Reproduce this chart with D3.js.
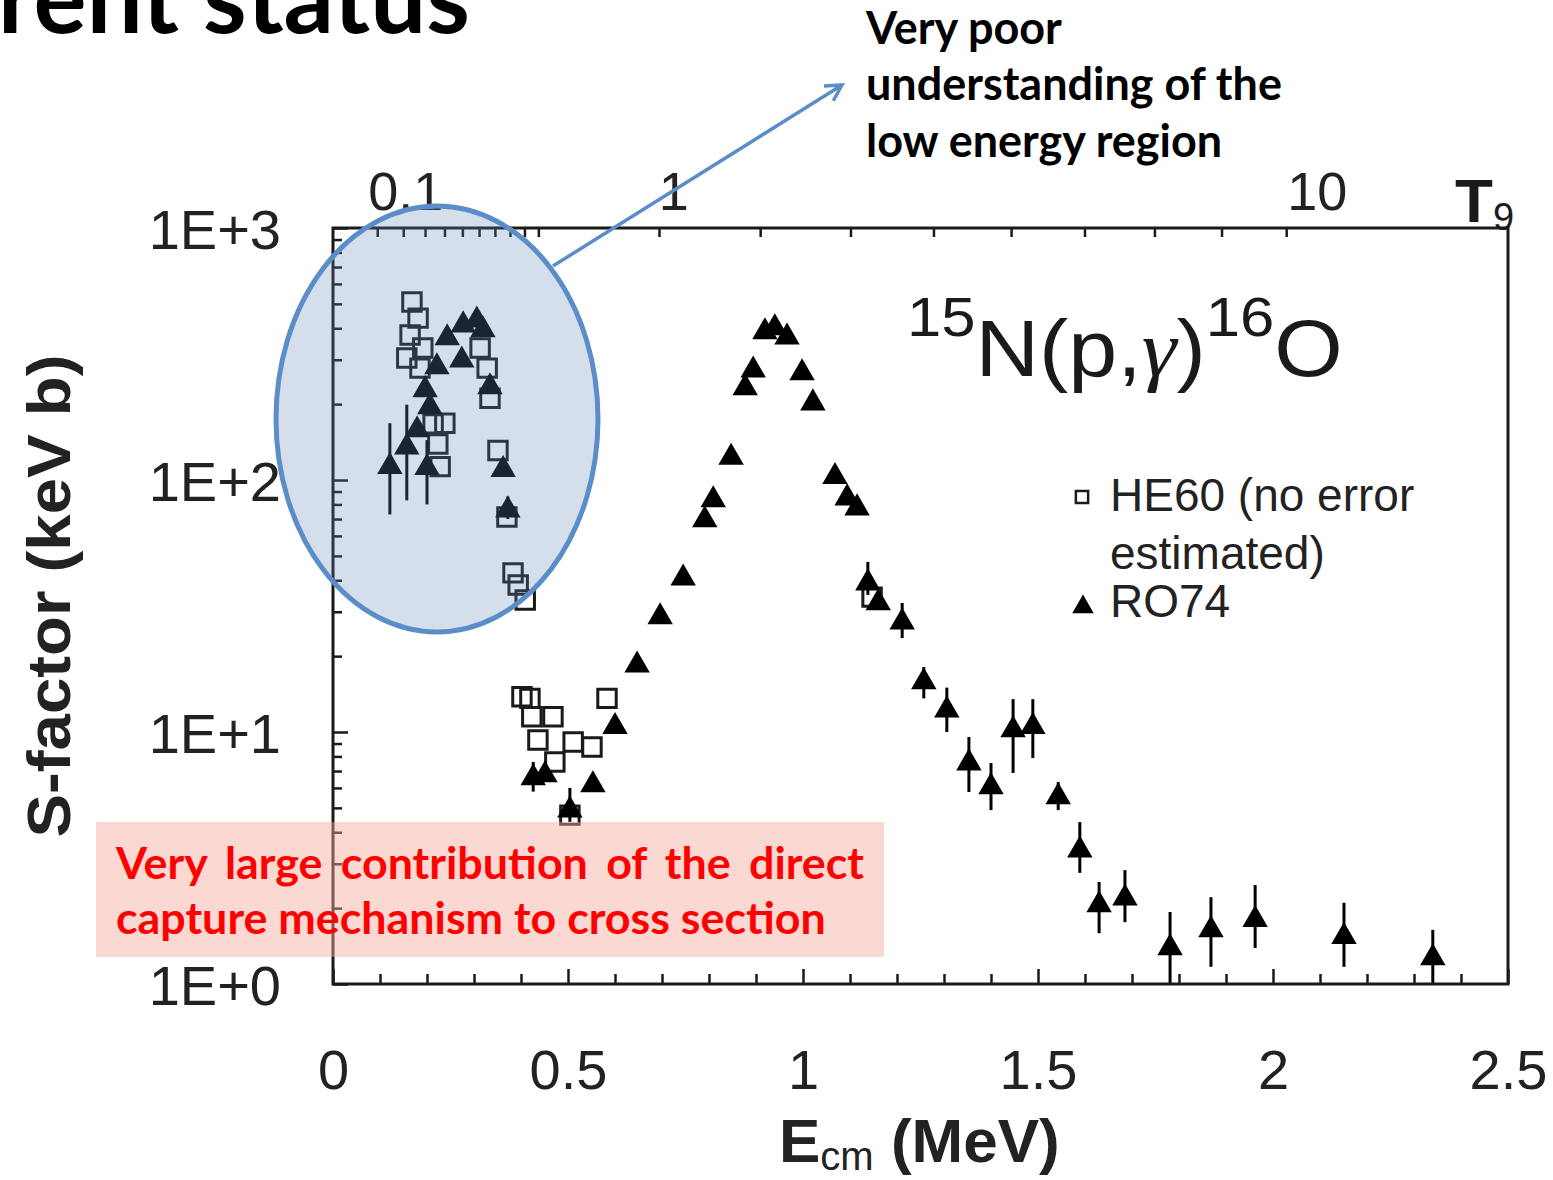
<!DOCTYPE html>
<html><head><meta charset="utf-8">
<script src="https://cdn.jsdelivr.net/npm/d3@7"></script>
<style>body{margin:0;background:#fff;} svg{display:block;}</style>
</head><body>
<svg id="c" width="1553" height="1180"></svg>
<script>
// ---------------- DATA ----------------
// RO74 (filled triangles, with error bars where visible)
const ro74E  = [0.121,0.157,0.200,0.179,0.206,0.196,0.221,0.243,0.274,0.277,0.306,0.319,0.334,0.362,0.372,
                0.426,0.451,0.504,0.553,0.600,0.647,0.696,0.745,0.791,0.809,0.847,0.877,0.894,0.919,0.940,0.966,
                0.998,1.021,1.068,1.094,1.115,1.138,1.160,1.211,1.257,1.306,1.353,1.400,1.447,1.489,1.543,1.589,
                1.630,1.685,1.781,1.868,1.962,2.151,2.340];
const ro74S  = [113,135,112,158,195,228,281,366,299,412,431,394,234,110,76,
                6.57,6.75,4.90,6.16,10.5,18.4,28.6,40.8,69.4,83.3,123,232,273,387,401,369,
                266,202,103,84.8,77.4,39.0,32.5,27.3,15.8,12.2,7.53,6.05,10.2,10.5,5.52,3.40,
                2.06,2.19,1.39,1.64,1.80,1.54,1.27];
const ro74Lo = [73,83,80,null,null,null,null,null,null,null,null,null,null,null,70,
                5.8,null,4.4,null,null,null,null,null,null,null,null,null,null,null,null,null,
                null,null,null,null,null,35,null,23.6,13.6,10.0,5.78,4.90,6.88,7.88,4.90,2.76,
                1.59,1.76,1.01,1.17,1.39,1.17,1.01];
const ro74Hi = [168,199,144,null,null,null,null,null,null,null,null,null,null,null,86,
                7.6,null,6.0,null,null,null,null,null,null,null,null,null,null,null,null,null,
                null,null,null,null,null,47.3,null,32.5,18.1,15.0,9.55,7.53,13.5,13.5,6.33,4.39,
                2.54,2.83,1.93,2.21,2.47,2.10,1.64];
// HE60 (open squares, no error estimated)
const he60E = [0.168,0.181,0.164,0.191,0.157,0.185,0.313,0.328,0.334,0.238,0.213,0.223,0.228,0.351,0.370,
               0.383,0.394,0.409,0.402,0.419,0.423,0.468,0.436,0.511,0.551,0.472,0.583,0.504,1.147];
const he60S = [509,439,376,334,305,278,334,278,211,168,167,139,113,131,71.3,
               42.8,38.3,33.4,13.8,13.6,11.5,11.5,9.30,9.12,8.72,7.60,13.6,4.68,34.3];

const xMajorTicks = [0,0.5,1,1.5,2,2.5];
const xMajorLabels = ["0","0.5","1","1.5","2","2.5"];
const xMinorTicks = [0.1,0.2,0.3,0.4,0.6,0.7,0.8,0.9,1.1,1.2,1.3,1.4,1.6,1.7,1.8,1.9,2.1,2.2,2.3,2.4];
const yMajorTicks = [1,10,100,1000];
const yMajorLabels = ["1E+0","1E+1","1E+2","1E+3"];
const t9Ticks = [0.1,0.2,0.3,0.4,0.5,0.6,0.7,0.8,0.9,1,2,3,4,5,6,7,8,9,10];
const t9Labels = ["0.1","1","10"];
const t9LabelE = [0.155,0.725,2.094];   // where the labels sit (MeV) in the original
const legendLabels = ["HE60 (no error","estimated)","RO74"];

// ---------------- CHART ----------------
const svg = d3.select("#c");
const x = d3.scaleLinear().domain([0,2.5]).range([333,1508]);
const y = d3.scaleLog().domain([1,1000]).range([984,228]);
// Gamow peak energy E0 = 0.122 (Z1^2 Z2^2 mu)^(1/3) T9^(2/3) MeV for p + 15N
const e0c = 0.122*Math.cbrt(49*15/16);
const t9 = d3.scalePow().exponent(2/3).domain([0,10]).range([x(0), x(e0c*Math.pow(10,2/3))]);

const FONT = "'Liberation Sans', Arial, sans-serif";
const ink = "#1a1a1a";

function styleAxis(g){ g.select(".domain").remove(); g.selectAll(".tick line").attr("stroke",ink).attr("stroke-width",2.5); }

// bottom axis
svg.append("g").attr("transform","translate(0,984)")
  .call(d3.axisBottom(x).tickValues(xMinorTicks).tickSize(-10).tickFormat("")).call(styleAxis);
const gb = svg.append("g").attr("transform","translate(0,984)")
  .call(d3.axisBottom(x).tickValues(xMajorTicks).tickSize(-15).tickPadding(0).tickFormat((d,i)=>xMajorLabels[i])).call(styleAxis);
gb.selectAll("text").attr("y",105).attr("dy",null).attr("font-family",FONT).attr("font-size",56).attr("fill","#222");

// left axis
const minorY = [];
[1,10,100].forEach(d=>{ for(let k=2;k<=9;k++) minorY.push(d*k); });
svg.append("g").attr("transform","translate(333,0)")
  .call(d3.axisLeft(y).tickValues(minorY).tickSize(-9).tickFormat("")).call(styleAxis);
const gl = svg.append("g").attr("transform","translate(333,0)")
  .call(d3.axisLeft(y).tickValues(yMajorTicks).tickSize(-15).tickPadding(52).tickFormat((d,i)=>yMajorLabels[i])).call(styleAxis);
gl.selectAll("text").attr("font-family",FONT).attr("font-size",56).attr("fill","#222").attr("dy","0.36em");

// top T9 axis
svg.append("g").attr("transform","translate(0,228)")
  .call(d3.axisTop(t9).tickValues(t9Ticks).tickSize(-9).tickFormat("")).call(styleAxis);
svg.append("g").selectAll("text").data(t9Labels).join("text")
  .attr("x",(d,i)=>x(t9LabelE[i])).attr("y",210).attr("text-anchor","middle")
  .attr("font-family",FONT).attr("font-size",54).attr("fill","#222").text(d=>d);
const tl = svg.append("text").attr("x",1455).attr("y",222).attr("font-family",FONT).attr("fill",ink);
tl.append("tspan").attr("font-size",62).attr("font-weight","bold").text("T");
tl.append("tspan").attr("font-size",38).attr("dy",8).text("9");

// frame
svg.append("rect").attr("x",x(0)).attr("y",y(1000)).attr("width",x(2.5)-x(0)).attr("height",y(1)-y(1000))
  .attr("fill","none").attr("stroke",ink).attr("stroke-width",3);

// HE60 squares
svg.append("g").selectAll("path").data(he60E).join("path")
  .attr("d",d3.symbol(d3.symbolSquare,340))
  .attr("transform",(d,i)=>`translate(${x(d)},${y(he60S[i])})`)
  .attr("fill","none").attr("stroke",ink).attr("stroke-width",3);

// RO74 error bars + triangles
const ro = ro74E.map((e,i)=>({e,s:ro74S[i],lo:ro74Lo[i],hi:ro74Hi[i]}));
svg.append("g").selectAll("line").data(ro.filter(d=>d.lo!=null)).join("line")
  .attr("x1",d=>x(d.e)).attr("x2",d=>x(d.e)).attr("y1",d=>y(d.lo)).attr("y2",d=>y(d.hi))
  .attr("stroke","#000").attr("stroke-width",3);
svg.append("g").selectAll("path").data(ro).join("path")
  .attr("d",d3.symbol(d3.symbolTriangle,280))
  .attr("transform",d=>`translate(${x(d.e)},${y(d.s)})`)
  .attr("fill","#000");

// legend
svg.append("path").attr("d",d3.symbol(d3.symbolSquare,150)).attr("transform","translate(1082,497)")
  .attr("fill","none").attr("stroke",ink).attr("stroke-width",2.5);
svg.append("path").attr("d",d3.symbol(d3.symbolTriangle,200)).attr("transform","translate(1083,607)").attr("fill","#000");
svg.append("g").selectAll("text").data(legendLabels).join("text")
  .attr("x",1110).attr("y",(d,i)=>[511,569,617][i])
  .attr("font-family",FONT).attr("font-size",46).attr("fill","#222").text(d=>d);

// reaction title
const rt = svg.append("text").attr("transform","translate(907,376) scale(1.1,1)").attr("font-family",FONT).attr("fill",ink);
rt.append("tspan").attr("font-size",56).attr("dy",-40).text("15");
rt.append("tspan").attr("font-size",80).attr("dy",40).text("N(p,");
rt.append("tspan").attr("font-size",80).attr("font-style","italic").attr("font-family","'Liberation Serif', serif").text("γ");
rt.append("tspan").attr("font-size",80).text(")");
rt.append("tspan").attr("font-size",56).attr("dy",-40).text("16");
rt.append("tspan").attr("font-size",80).attr("dy",40).text("O");

// axis titles
svg.append("text").attr("transform","translate(70,596) rotate(-90)").attr("text-anchor","middle")
  .attr("font-family",FONT).attr("font-weight","bold").attr("font-size",62).attr("fill","#222")
  .attr("textLength",483).attr("lengthAdjust","spacingAndGlyphs").text("S-factor (keV b)");
const xt = svg.append("text").attr("x",779).attr("y",1162).attr("font-family",FONT).attr("fill","#222");
xt.append("tspan").attr("font-size",62).attr("font-weight","bold").text("E");
xt.append("tspan").attr("font-size",40).attr("dy",8).text("cm");
xt.append("tspan").attr("font-size",62).attr("font-weight","bold").attr("dy",-8).text(" (MeV)");

// ellipse highlight
svg.append("ellipse").attr("cx",437).attr("cy",419).attr("rx",161).attr("ry",213)
  .attr("fill","rgb(100,135,185)").attr("fill-opacity",0.27)
  .attr("stroke","#5b8ec8").attr("stroke-width",5);

// arrow
const defs = svg.append("defs");
defs.append("marker").attr("id","ah").attr("viewBox","0 0 12 12").attr("refX",10).attr("refY",6)
  .attr("markerWidth",6).attr("markerHeight",6).attr("orient","auto").attr("markerUnits","strokeWidth")
  .append("path").attr("d","M1,1 L10,6 L1,11").attr("fill","none").attr("stroke","#5b8ec8").attr("stroke-width",2);
svg.append("line").attr("x1",553).attr("y1",266).attr("x2",842).attr("y2",85)
  .attr("stroke","#5b8ec8").attr("stroke-width",3.5).attr("marker-end","url(#ah)");

// annotation text
const BFONT = "Lato, 'Open Sans', sans-serif";
const annLines = ["Very poor","understanding of the","low energy region"];
const ann = svg.append("g").selectAll("text").data(annLines).join("text")
  .attr("x",866).attr("y",(d,i)=>[44,100,157][i]).attr("font-family",BFONT).attr("font-weight","bold")
  .attr("font-size",40).attr("fill","#000").text(d=>d);
{ const w = ann.nodes()[1].getComputedTextLength(); const fs = 40*416/w; ann.attr("font-size",fs); }

// red box
svg.append("rect").attr("x",96).attr("y",822).attr("width",788).attr("height",135)
  .attr("fill","#f9a89c").attr("fill-opacity",0.45);
const redLines = ["Very large contribution of the direct","capture mechanism to cross section"];
const red = svg.append("g").selectAll("text").data(redLines).join("text")
  .attr("x",116).attr("y",(d,i)=>[879,934][i]).attr("font-family",BFONT).attr("font-weight","bold")
  .attr("font-size",40).attr("fill","#ff0000").text(d=>d);
{ const n = red.nodes(); const w2 = n[1].getComputedTextLength(); const fs = 40*710/w2; red.attr("font-size",fs);
  const w1 = n[0].getComputedTextLength(); const spaces = redLines[0].split(" ").length-1;
  d3.select(n[0]).attr("word-spacing",(748-w1)/spaces); }

// page title fragment (cut at the top edge, as in the original slide)
const pt = svg.append("text").attr("x",-2).attr("y",33).attr("font-family",BFONT).attr("font-weight","bold")
  .attr("font-size",88).attr("fill","#000").text("rent status");
{ const w = pt.node().getComputedTextLength(); pt.attr("font-size",88*472/w); }
</script>
</body></html>
